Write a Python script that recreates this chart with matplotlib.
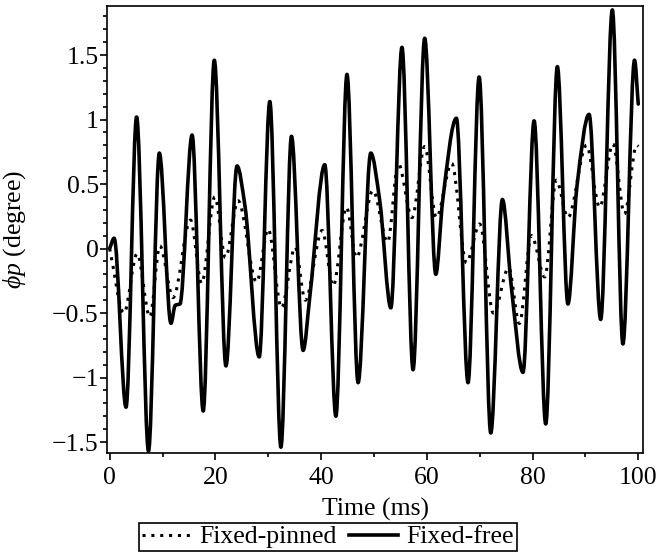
import numpy as np
import matplotlib
matplotlib.use("Agg")
import matplotlib.pyplot as plt
from matplotlib.path import Path
from matplotlib.patches import PathPatch
from matplotlib.lines import Line2D
from matplotlib.ticker import FixedLocator, MultipleLocator, FuncFormatter

# ---- data (time in ms, angle in degree) ----
free_t = [0.0, 0.85, 3.1, 5.1, 7.35, 9.4, 11.6, 12.4, 13.3, 15.6, 17.7, 19.8, 22.0,
          24.1, 25.6, 28.3, 30.3, 32.4, 34.4, 36.6, 37.9, 40.7, 42.8, 44.9, 47.0,
          49.4, 51.1, 53.2, 55.3, 57.4, 59.6, 61.7, 63.0, 65.6, 67.8, 69.9, 72.1,
          74.3, 76.0, 78.2, 80.3, 82.5, 84.7, 86.7, 88.4, 90.7, 92.9, 95.1, 97.1,
          99.3, 100.0]
free_v = [0.0, 0.08, -1.23, 1.02, -1.57, 0.74, -0.58, -0.44, -0.43, 0.88, -1.26, 1.46, -0.91,
          0.64, 0.33, -0.84, 1.14, -1.54, 0.87, -0.79, -0.36, 0.65, -1.30, 1.35, -1.04,
          0.74, 0.37, -0.46, 1.56, -0.94, 1.63, -0.20, 0.37, 1.01, -1.04, 1.33, -1.43,
          0.38, -0.30, -0.96, 0.99, -1.36, 1.41, -0.43, 0.48, 1.04, -0.55, 1.85, -0.74,
          1.46, 1.12]

pinned_t = [0.0, 2.7, 5.2, 7.6, 9.5, 12.0, 15.3, 17.4, 19.9, 21.9, 24.3, 27.8, 30.0,
            32.5, 35.1, 37.0, 40.2, 42.3, 44.8, 46.7, 49.8, 52.6, 54.6, 57.2, 59.6,
            61.8, 64.7, 67.5, 70.0, 72.6, 75.5, 77.5, 79.8, 82.3, 84.5, 86.7, 90.2,
            92.7, 95.2, 97.4, 99.7, 100.0]
pinned_v = [0.0, -0.50, -0.04, -0.53, 0.02, -0.38, 0.22, -0.27, 0.40, -0.07, 0.37, -0.26, 0.15,
            -0.46, 0.01, -0.40, 0.14, -0.29, 0.32, -0.07, 0.45, 0.05, 0.66, 0.24, 0.79,
            0.24, 0.66, -0.11, 0.19, -0.50, -0.15, -0.58, 0.10, -0.22, 0.53, 0.24, 0.80,
            0.32, 0.81, 0.27, 0.80, 0.79]

series_labels = ["Fixed-pinned", "Fixed-free"]
x_ticks = [0, 20, 40, 60, 80, 100]
y_ticks = [-1.5, -1, -0.5, 0, 0.5, 1, 1.5]


def smooth_path(t, v):
    """Monotone cubic Bezier path through the read points (drawn by matplotlib)."""
    t = np.asarray(t, float)
    v = np.asarray(v, float)
    n = len(t)
    d = np.diff(v) / np.diff(t)
    m = np.zeros(n)
    for i in range(1, n - 1):
        if d[i - 1] * d[i] > 0:
            h0, h1 = t[i] - t[i - 1], t[i + 1] - t[i]
            w1, w2 = 2 * h1 + h0, h1 + 2 * h0
            m[i] = (w1 + w2) / (w1 / d[i - 1] + w2 / d[i])
    m[0], m[-1] = d[0], d[-1]
    verts = [(t[0], v[0])]
    codes = [Path.MOVETO]
    for i in range(n - 1):
        h = t[i + 1] - t[i]
        verts += [(t[i] + h / 3, v[i] + m[i] * h / 3),
                  (t[i + 1] - h / 3, v[i + 1] - m[i + 1] * h / 3),
                  (t[i + 1], v[i + 1])]
        codes += [Path.CURVE4] * 3
    return Path(verts, codes)


plt.rcParams['font.family'] = ['Liberation Serif', 'DejaVu Serif']
plt.rcParams['mathtext.fontset'] = 'custom'
plt.rcParams['mathtext.rm'] = 'Liberation Serif'
plt.rcParams['mathtext.it'] = 'Liberation Serif:italic'
FS = 18.5

fig = plt.figure(figsize=(6.6, 5.56), dpi=100)
W, H = 660, 556
ax = fig.add_axes([107 / W, 1 - 453 / H, (643 - 107) / W, (453 - 6) / H])

dot_style = (0, (1, 1.9))
LW_DOT, LW_SOLID = 2.2, 2.6
p1 = PathPatch(smooth_path(pinned_t, pinned_v), fill=False, edgecolor='black',
               linewidth=LW_DOT, linestyle=dot_style, transform=ax.transData)
p2 = PathPatch(smooth_path(free_t, free_v), fill=False, edgecolor='black',
               linewidth=LW_SOLID, linestyle='-', transform=ax.transData,
               joinstyle='round', capstyle='round')
ax.add_patch(p1)
ax.add_patch(p2)

ax.set_xlim(-0.5, 100.9)
ax.set_ylim(-1.585, 1.88)

ax.xaxis.set_major_locator(FixedLocator(x_ticks))
ax.xaxis.set_minor_locator(MultipleLocator(10))
ax.yaxis.set_major_locator(FixedLocator(y_ticks))
ax.yaxis.set_minor_locator(MultipleLocator(0.1))
fmt = FuncFormatter(lambda val, pos: ('%g' % val).replace('-', '\u2212'))
ax.xaxis.set_major_formatter(fmt)
ax.yaxis.set_major_formatter(fmt)

ax.tick_params(which='both', direction='out', top=False, right=False, width=1.2,
               labelsize=FS)
ax.tick_params(which='major', length=5)
ax.tick_params(which='minor', length=3)
ax.tick_params(axis='x', pad=5)
ax.tick_params(axis='y', pad=1)
for s in ax.spines.values():
    s.set_linewidth(1.2)

ax.set_xlabel('Time (ms)', fontsize=FS)
ax.xaxis.set_label_coords(0.5, -0.1)
ax.set_ylabel(r'$\phi p$ (degree)', fontsize=FS)
ax.yaxis.set_label_coords(-0.148, 0.5)

handles = [Line2D([], [], color='black', linewidth=LW_DOT, linestyle=dot_style),
           Line2D([], [], color='black', linewidth=LW_SOLID, linestyle='-')]
leg = fig.legend(handles, series_labels, loc='center', ncol=2,
                 bbox_to_anchor=(328 / W, 1 - 537 / H), fontsize=FS,
                 frameon=True, fancybox=False, edgecolor='black', framealpha=1,
                 handlelength=1.9, handletextpad=0.35, columnspacing=0.45,
                 borderpad=0.1, borderaxespad=0)
leg.get_frame().set_linewidth(1.2)

fig.savefig('out.png', dpi=100)
